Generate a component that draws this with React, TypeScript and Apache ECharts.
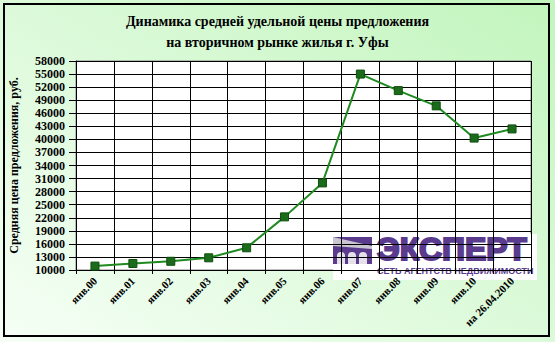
import React, { useEffect, useRef } from "react";
import * as echarts from "echarts";

const categories = [
  "янв.00", "янв.01", "янв.02", "янв.03", "янв.04", "янв.05", "янв.06",
  "янв.07", "янв.08", "янв.09", "янв.10", "на 26.04.2010",
];
const prices = [10900, 11500, 12000, 12800, 15100, 22200, 30000, 55000, 51200, 47700, 40300, 42400];
const titleLines = ["Динамика средней удельной цены предложения", "на вторичном рынке жилья г. Уфы"];
const yName = "Средняя цена предложения, руб.";
const yMin = 10000;
const yMax = 58000;
const yStep = 3000;

export default function App() {
  const ref = useRef<HTMLDivElement>(null);
  useEffect(() => {
    if (!ref.current) return;
    const chart = echarts.init(ref.current, undefined, { renderer: "svg" });
    const serif = "Liberation Serif";
    const purple = "#5a3b8e";
    chart.setOption({
      animation: false,
      backgroundColor: new echarts.graphic.LinearGradient(1, 0, 0, 1, [
        { offset: 0, color: "#c2f5bd" },
        { offset: 1, color: "#f6fff6" },
      ]),
      title: {
        text: titleLines.join("\n"),
        left: "center",
        top: 6,
        textStyle: { fontFamily: serif, fontWeight: "bold", fontSize: 14, color: "#000", lineHeight: 21 },
      },
      grid: {
        left: 75, top: 61, right: 24, bottom: 72,
        show: true, backgroundColor: "#ffffff", borderColor: "#808080", borderWidth: 1,
      },
      xAxis: {
        type: "category",
        data: categories,
        boundaryGap: true,
        axisLine: { lineStyle: { color: "#000", width: 1 } },
        axisTick: { show: true, length: 4, lineStyle: { color: "#000" } },
        splitLine: { show: true, lineStyle: { color: "#000", width: 1 } },
        axisLabel: {
          interval: 0, rotate: 45, margin: 9,
          fontFamily: serif, fontWeight: "bold", fontSize: 11, color: "#000",
        },
      },
      yAxis: {
        type: "value",
        min: yMin, max: yMax, interval: yStep,
        name: yName,
        nameLocation: "middle",
        nameRotate: 90,
        nameGap: 56,
        nameTextStyle: { fontFamily: serif, fontWeight: "bold", fontSize: 12, color: "#000" },
        axisLine: { show: true, lineStyle: { color: "#000", width: 1 } },
        axisTick: { show: true, length: 7, lineStyle: { color: "#000" } },
        splitLine: { show: true, lineStyle: { color: "#000", width: 1 } },
        axisLabel: {
          margin: 11, fontFamily: serif, fontWeight: "bold", fontSize: 12, color: "#000",
          formatter: (v: number) => String(v),
        },
      },
      series: [
        {
          type: "line",
          data: prices,
          symbol: "rect",
          symbolSize: 8,
          lineStyle: { color: "#1f8a1f", width: 2 },
          itemStyle: { color: "#1b6b1b", borderColor: "#0e4f0e", borderWidth: 1 },
          z: 3,
        },
      ],
      graphic: [
        {
          type: "rect",
          shape: { x: 4, y: 4, width: 545, height: 332 },
          style: { fill: "none", stroke: "#000", lineWidth: 2 },
          silent: true,
          z: 10,
        },
        {
          type: "group",
          z: 20,
          children: [
            { type: "rect", shape: { x: 333, y: 234, width: 204, height: 46 }, style: { fill: "#ffffff" } },
            { type: "rect", shape: { x: 333, y: 237, width: 39, height: 27 }, style: { fill: purple } },
            {
              type: "polygon",
              shape: { points: [[333, 237], [372, 246], [372, 249], [333, 246]] },
              style: { fill: "#c9c6d2" },
            },
            { type: "rect", shape: { x: 337, y: 252, width: 8, height: 12, r: [4, 4, 0, 0] }, style: { fill: "#e4e1ea" } },
            { type: "rect", shape: { x: 348, y: 252, width: 8, height: 12, r: [4, 4, 0, 0] }, style: { fill: "#e4e1ea" } },
            { type: "rect", shape: { x: 359, y: 252, width: 8, height: 12, r: [4, 4, 0, 0] }, style: { fill: "#e4e1ea" } },
            {
              type: "text",
              x: 377, y: 249,
              style: {
                text: "ЭКСПЕРТ",
                font: "bold 32px Liberation Sans",
                fill: purple,
                stroke: purple,
                lineWidth: 2,
                textVerticalAlign: "middle",
              },
            },
            {
              type: "text",
              x: 377, y: 271,
              style: {
                text: "СЕТЬ АГЕНТСТВ НЕДВИЖИМОСТИ",
                font: "bold 9px Liberation Sans",
                fill: purple,
                textVerticalAlign: "middle",
              },
            },
          ],
        },
      ],
    });
    return () => chart.dispose();
  }, []);
  return (
    <div
      ref={ref}
      style={{ position: "fixed", left: 0, top: 0, width: 555, height: 342 }}
    />
  );
}
